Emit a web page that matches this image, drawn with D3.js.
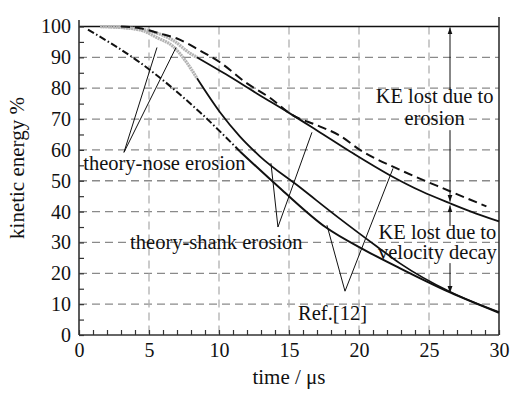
<!DOCTYPE html>
<html><head><meta charset="utf-8">
<script src="https://cdn.jsdelivr.net/npm/d3@7"></script>
<style>
body{margin:0;background:#fff}
svg{display:block}
text{font-family:"Liberation Serif","Times New Roman","DejaVu Serif","Noto Serif",serif;fill:#111}
</style>
</head><body>
<svg id="chart" width="518" height="393"></svg>
<script>
// ---------- data ----------
const xTicks = [0, 5, 10, 15, 20, 25, 30];
const yTicks = [0, 10, 20, 30, 40, 50, 60, 70, 80, 90, 100];
const xLabel = "time / \u03bcs";
const yLabel = "kinetic energy %";

// Ref.[12] - dashed (KE considering erosion)
const refErosion = [[3,100],[4.36,99.4],[5.8,97.7],[7.0,96.1],[8.64,92.2],[10.1,88.3],[11.9,81.9],[13.6,77.0],[15.2,71.4],[17,68],[18.6,64.7],[20.1,59.9],[22.7,54],[26.5,46.6],[29.1,41.7]];
// Ref.[12] - dash-dot (KE with velocity decay)
const refVelocity = [[0.64,99],[4.36,88.3],[8.64,72.2],[11.5,59.5],[14.5,47],[17.6,35],[20.5,27.3],[22.9,21.7],[26.5,13.8],[30,7.2]];
// theory-nose erosion (grey), upper and lower branch
const noseUpper = [[1.5,100],[4.36,99.2],[5.6,97.8],[6.7,95.6],[7.9,91.4],[8.43,90]];
const noseLower = [[1.5,100],[2.9,99.7],[4.5,98.7],[5.57,96.4],[6.7,93.6],[7.7,88.3],[8.43,83.2]];
// theory-shank erosion (solid black), upper and lower branch
const shankUpper = [[8.43,90],[10.5,84.5],[12.7,78.3],[15,72],[17,66.3],[19.6,58.8],[22.2,51.8],[24.5,46.5],[26.5,42.7],[28,40],[30,36.8]];
const shankLower = [[8.43,83.2],[10.07,72.2],[11.5,64.3],[12.9,58],[15.8,47.8],[18.6,37.8],[21.3,28.6],[22.9,23.3],[26.5,14.0],[30,7.4]];

// annotations (data units)
const labels = [
  {text:"theory-nose erosion", t:0.3, v:53.5, anchor:"start"},
  {text:"theory-shank erosion", t:3.65, v:28, anchor:"start"},
  {text:"KE lost due to", t:25.4, v:75.1, anchor:"middle"},
  {text:"erosion", t:25.4, v:68, anchor:"middle"},
  {text:"KE lost due to", t:25.6, v:31.1, anchor:"middle"},
  {text:"velocity decay", t:25.6, v:24.6, anchor:"middle"},
  {text:"Ref.[12]", t:15.65, v:4.9, anchor:"start"}
];
const leaders = [
  [[5.57,93.2],[3.21,59.2],[6.93,93.2]],
  [[13.71,55.7],[14.21,35.0],[16.64,65.7]],
  [[17.71,35.6],[19.0,14.2],[22.43,54.0]]
];
const arrows = [
  {t:26.5, from:79.4, to:99.7},
  {t:26.5, from:66.4, to:43.2},
  {t:26.5, from:35.3, to:42.0},
  {t:26.5, from:23.3, to:13.6}
];

// ---------- drawing ----------
const svg = d3.select("#chart");
const x = d3.scaleLinear().domain([0,30]).range([79,499]);
const y = d3.scaleLinear().domain([0,100]).range([335,26.5]);

const defs = svg.append("defs");
defs.append("marker").attr("id","ah").attr("viewBox","0 0 10 10")
  .attr("refX",10).attr("refY",5).attr("markerWidth",7).attr("markerHeight",7)
  .attr("markerUnits","userSpaceOnUse").attr("orient","auto")
  .append("path").attr("d","M0,1.5L10,5L0,8.5Z").attr("fill","#111");

// grid
svg.append("g").selectAll("line").data(yTicks.filter(d=>d>0&&d<100)).join("line")
  .attr("x1",x(0)).attr("x2",x(30)).attr("y1",d=>y(d)).attr("y2",d=>y(d))
  .attr("stroke","#8a8a8a").attr("stroke-width",1.3).attr("stroke-dasharray","8,5");
svg.append("g").selectAll("line").data(xTicks.filter(d=>d>0&&d<30)).join("line")
  .attr("x1",d=>x(d)).attr("x2",d=>x(d)).attr("y1",y(100)).attr("y2",y(0))
  .attr("stroke","#b0b0b0").attr("stroke-width",1.3).attr("stroke-dasharray","8,5");

// 100% line
svg.append("line").attr("x1",x(0)).attr("x2",x(30)).attr("y1",y(100)).attr("y2",y(100))
  .attr("stroke","#111").attr("stroke-width",1.5);

// axes
const yAxis = d3.axisLeft(y).tickValues(yTicks).tickSize(-5).tickPadding(8).tickFormat(d3.format("d"));
const yMinor = d3.axisLeft(y).tickValues(d3.range(5,100,10)).tickSize(-5).tickFormat("");
const xAxis = d3.axisBottom(x).tickValues(xTicks).tickSize(-5).tickPadding(8).tickFormat(d3.format("d"));
const xMinor = d3.axisBottom(x).tickValues(d3.range(1,30,1).filter(d=>d%5)).tickSize(-5).tickFormat("");
function styleAxis(g){
  g.select(".domain").remove();
  g.selectAll(".tick line").attr("stroke","#333").attr("stroke-width",1.2);
  g.selectAll("text").attr("font-size",20).attr("fill","#111").attr("font-family",null);
}
svg.append("g").attr("transform",`translate(${x(0)},0)`).call(yAxis).call(styleAxis);
svg.append("g").attr("transform",`translate(${x(0)},0)`).call(yMinor).call(styleAxis);
svg.append("g").attr("transform",`translate(0,${y(0)})`).call(xAxis).call(styleAxis);
svg.append("g").attr("transform",`translate(0,${y(0)})`).call(xMinor).call(styleAxis);
svg.selectAll("g").attr("font-family",null);

// frame lines
svg.append("line").attr("x1",x(0)).attr("x2",x(0)).attr("y1",20).attr("y2",y(0)).attr("stroke","#333").attr("stroke-width",1.6);
svg.append("line").attr("x1",x(0)).attr("x2",x(30)).attr("y1",y(0)).attr("y2",y(0)).attr("stroke","#333").attr("stroke-width",1.6);
svg.append("line").attr("x1",x(30)).attr("x2",x(30)).attr("y1",17).attr("y2",y(0)).attr("stroke","#333").attr("stroke-width",1.6);

// curves
const line = d3.line().x(d=>x(d[0])).y(d=>y(d[1])).curve(d3.curveMonotoneX);
function drawCurve(data, stroke, width, dash){
  const p = svg.append("path").datum(data).attr("d",line)
    .attr("fill","none").attr("stroke",stroke).attr("stroke-width",width)
    .attr("stroke-linejoin","round");
  if(dash) p.attr("stroke-dasharray",dash);
  return p;
}
drawCurve(noseUpper, "#b4b4b4", 3.2, "2,0.6");
drawCurve(noseLower, "#b4b4b4", 3.2, "2,0.6");
drawCurve(refErosion, "#111", 2, "9,5");
drawCurve(refVelocity.filter(d=>d[0]<=11.5), "#111", 2, "7,2.5,1.5,2.5");
drawCurve(refVelocity.filter(d=>d[0]>=11.5), "#111", 2);
drawCurve(shankUpper, "#111", 1.8);
drawCurve(shankLower, "#111", 1.8);

// leader lines
svg.append("g").selectAll("polyline").data(leaders).join("polyline")
  .attr("points",d=>d.map(p=>x(p[0])+","+y(p[1])).join(" "))
  .attr("fill","none").attr("stroke","#111").attr("stroke-width",1);

// arrows
svg.append("g").selectAll("line").data(arrows).join("line")
  .attr("x1",d=>x(d.t)).attr("x2",d=>x(d.t)).attr("y1",d=>y(d.from)).attr("y2",d=>y(d.to))
  .attr("stroke","#111").attr("stroke-width",1).attr("marker-end","url(#ah)");

// annotation text
svg.append("g").selectAll("text").data(labels).join("text")
  .attr("x",d=>x(d.t)).attr("y",d=>y(d.v)).attr("text-anchor",d=>d.anchor)
  .attr("font-size",20.5).text(d=>d.text);

// axis titles
svg.append("text").attr("x",(x(0)+x(30))/2).attr("y",384).attr("text-anchor","middle")
  .attr("font-size",21).text(xLabel);
svg.append("text").attr("transform",`translate(24,${168}) rotate(-90)`).attr("text-anchor","middle")
  .attr("font-size",21).text(yLabel);
</script>
</body></html>
